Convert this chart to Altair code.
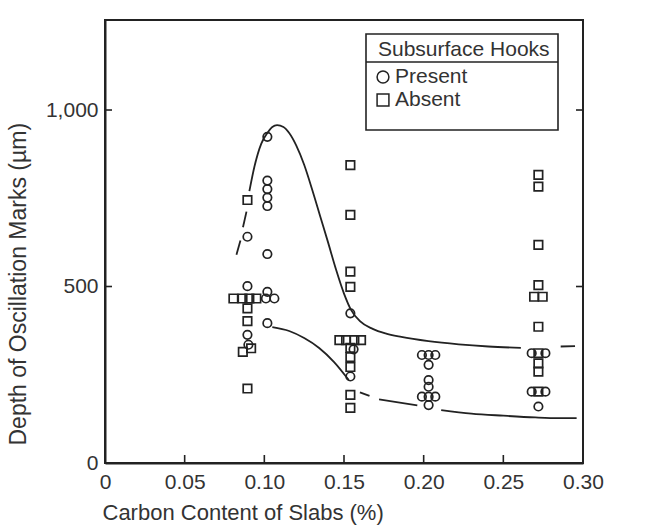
import altair as alt
import pandas as pd

# Carbon content (%) and oscillation-mark depth (um) of each slab sample
present_x = [0.1019, 0.1019, 0.1019, 0.1019, 0.1019, 0.0894, 0.1019, 0.0894,
             0.1019, 0.1010, 0.1063, 0.1019, 0.0894, 0.0900,
             0.1540, 0.1560, 0.1540,
             0.1989, 0.2031, 0.2073, 0.2031, 0.2031, 0.2031, 0.1989, 0.2031, 0.2073, 0.2031,
             0.2678, 0.2764, 0.2678, 0.2764, 0.2720]
present_y = [924, 800, 776, 752, 728, 641, 592, 501,
             485, 466, 466, 396, 363, 335,
             424, 322, 245,
             306, 306, 306, 278, 235, 216, 188, 188, 188, 164,
             311, 311, 202, 202, 160]

absent_x = [0.0894, 0.0806, 0.0863, 0.0906, 0.0950, 0.0894, 0.0894, 0.0865, 0.0917, 0.0894,
            0.1540, 0.1540, 0.1540, 0.1540, 0.1471, 0.1513, 0.1565, 0.1607,
            0.1540, 0.1540, 0.1540, 0.1540, 0.1540,
            0.2720, 0.2720, 0.2720, 0.2720, 0.2693, 0.2747, 0.2720, 0.2720, 0.2720,
            0.2720, 0.2720]
absent_y = [745, 466, 466, 466, 466, 438, 402, 315, 325, 211,
            844, 703, 542, 499, 348, 348, 348, 348,
            326, 300, 272, 193, 156,
            816, 783, 618, 504, 471, 471, 386, 311, 282,
            259, 202]

# Hand-drawn envelope curves, broken where they pass the symbol clusters
upper_x = [0.0825, 0.0850,
           0.0866, 0.0888,
           0.0906, 0.0938, 0.0981, 0.1019, 0.1050, 0.1080, 0.1120, 0.1156, 0.1200,
           0.1250, 0.1300, 0.1350, 0.1400, 0.1450, 0.1500, 0.1544, 0.1600, 0.1680,
           0.1760, 0.1860, 0.2030, 0.2220, 0.2406, 0.2610,
           0.2860, 0.2950]
upper_y = [590, 630,
           668, 712,
           770, 840, 905, 935, 952, 957, 952, 935, 900,
           845, 775, 700, 625, 548, 480, 434, 402, 380,
           367, 357, 345, 336, 330, 326,
           330, 331]
upper_seg = [0, 0, 1, 1] + [2] * 24 + [3, 3]

lower_x = [0.1050, 0.1156, 0.1250, 0.1344, 0.1438, 0.1530,
           0.1600, 0.1660,
           0.1720, 0.1960,
           0.2110, 0.2300, 0.2500, 0.2700, 0.2850, 0.2960]
lower_y = [385, 374, 354, 326, 286, 235,
           200, 190,
           180, 163,
           150, 140, 134, 129, 127, 127]
lower_seg = [0] * 6 + [1, 1] + [2, 2] + [3] * 6

x_ticks = [0, 0.05, 0.10, 0.15, 0.20, 0.25, 0.30]
y_ticks = [0, 500, 1000]
legend_title = "Subsurface Hooks"
legend_labels = ["Present", "Absent"]
legend_shapes = ["circle", "square"]

INK = "#222222"
TEXT = "#333333"
FONT = "Liberation Sans"
W, H = 478, 443

points = pd.concat([
    pd.DataFrame({"carbon": present_x, "depth": present_y, "hooks": "Present"}),
    pd.DataFrame({"carbon": absent_x, "depth": absent_y, "hooks": "Absent"}),
], ignore_index=True)

curves = pd.concat([
    pd.DataFrame({"carbon": upper_x, "depth": upper_y,
                  "seg": [f"u{s}" for s in upper_seg], "i": range(len(upper_x))}),
    pd.DataFrame({"carbon": lower_x, "depth": lower_y,
                  "seg": [f"l{s}" for s in lower_seg], "i": range(len(lower_x))}),
], ignore_index=True)

x_scale = alt.Scale(domain=[0, 0.30], nice=False, zero=False)
y_scale = alt.Scale(domain=[0, 1255], nice=False, zero=False)

x_axis = alt.Axis(
    values=x_ticks, labelFlush=False,
    labelExpr="datum.value == 0 ? '0' : format(datum.value, '.2f')",
    tickSize=0, domain=True, domainColor=INK, domainWidth=2, grid=False,
    labelPadding=8, labelFontSize=21, labelColor=TEXT, labelFont=FONT,
    title="Carbon Content of Slabs (%)", titleFontSize=22, titleFont=FONT,
    titleColor=TEXT, titleFontWeight="normal", titleAlign="left",
    titleAnchor="start", titleX=-3, titleY=49, titleBaseline="middle",
)
y_axis = alt.Axis(
    values=y_ticks, format=",.0f", labelFlush=False,
    tickSize=0, domain=True, domainColor=INK, domainWidth=2, grid=False,
    labelPadding=7, labelFontSize=21, labelColor=TEXT, labelFont=FONT,
    title="Depth of Oscillation Marks (\u00b5m)", titleFontSize=23, titleFont=FONT,
    titleColor=TEXT, titleFontWeight="normal", titleAngle=-90, titleAlign="left",
    titleX=-87, titleY=425, titleBaseline="middle",
)

lines = alt.Chart(curves).mark_line(color=INK, strokeWidth=1.8, interpolate="monotone").encode(
    x=alt.X("carbon:Q", scale=x_scale, axis=x_axis),
    y=alt.Y("depth:Q", scale=y_scale, axis=y_axis),
    detail="seg:N", order="i:Q",
)

dots = alt.Chart(points).mark_point(filled=False, size=72, strokeWidth=1.7, opacity=1).encode(
    x=alt.X("carbon:Q", scale=x_scale),
    y=alt.Y("depth:Q", scale=y_scale),
    shape=alt.Shape("hooks:N", scale=alt.Scale(domain=legend_labels, range=legend_shapes), legend=None),
    color=alt.value(INK),
)

# Inward tick marks on the frame
tick_x = pd.DataFrame({"carbon": x_ticks[1:-1]})
tick_y = pd.DataFrame({"depth": y_ticks[1:]})
bottom_ticks = alt.Chart(tick_x).mark_rule(color=INK, strokeWidth=1.6).encode(
    x=alt.X("carbon:Q", scale=x_scale), y=alt.value(H), y2=alt.value(H - 8))
left_ticks = alt.Chart(tick_y).mark_rule(color=INK, strokeWidth=1.6).encode(
    y=alt.Y("depth:Q", scale=y_scale), x=alt.value(0), x2=alt.value(7))
right_ticks = alt.Chart(tick_y).mark_rule(color=INK, strokeWidth=1.6).encode(
    y=alt.Y("depth:Q", scale=y_scale), x=alt.value(W), x2=alt.value(W - 7))

# Boxed legend with a ruled title row
LX0, LX1, LY0, LY1 = 261, 453, 14, 110
one = pd.DataFrame({"t": [legend_title]})
legend_box = alt.Chart(one).mark_rect(fill="white", stroke=INK, strokeWidth=1.6).encode(
    x=alt.value(LX0), x2=alt.value(LX1), y=alt.value(LY0), y2=alt.value(LY1))
legend_rule = alt.Chart(one).mark_rule(color=INK, strokeWidth=1.6).encode(
    x=alt.value(LX0), x2=alt.value(LX1), y=alt.value(42))
legend_head = alt.Chart(one).mark_text(
    align="left", baseline="alphabetic", fontSize=21, font=FONT, color=TEXT
).encode(x=alt.value(273), y=alt.value(36), text="t:N")

legend_rows = []
for k, (lab, shp) in enumerate(zip(legend_labels, legend_shapes)):
    row = pd.DataFrame({"label": [lab]})
    yy = 57 + 23 * k
    legend_rows.append(alt.Chart(row).mark_point(
        shape=shp, filled=False, size=140, strokeWidth=1.5, color=INK, opacity=1
    ).encode(x=alt.value(278), y=alt.value(yy)))
    legend_rows.append(alt.Chart(row).mark_text(
        align="left", baseline="middle", fontSize=21, font=FONT, color=TEXT
    ).encode(x=alt.value(290), y=alt.value(yy), text="label:N"))

chart = alt.layer(
    lines, dots, bottom_ticks, left_ticks, right_ticks,
    legend_box, legend_rule, legend_head, *legend_rows
).properties(
    width=W, height=H,
    autosize=alt.AutoSizeParams(type="none"),
    padding={"left": 105, "top": 20, "right": 660 - 105 - W, "bottom": 64},
    background="white",
).configure_view(stroke=INK, strokeWidth=2)

chart.save("out.html", embed_options={"renderer": "svg", "actions": False})
